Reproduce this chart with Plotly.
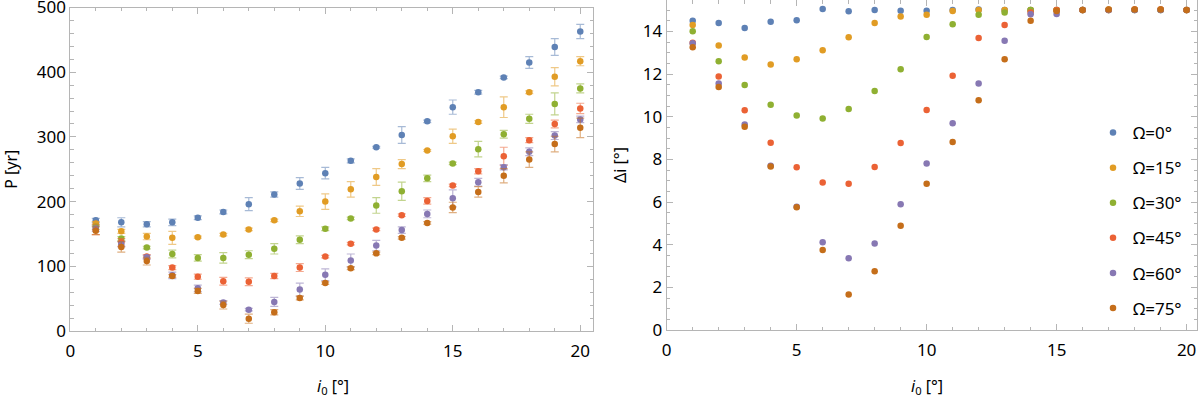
import plotly.graph_objects as go
from plotly.subplots import make_subplots

# ---------------- data ----------------
i0 = list(range(1, 21))
omega_labels = ["Ω=0°", "Ω=15°", "Ω=30°", "Ω=45°", "Ω=60°", "Ω=75°"]
x_title = "<i>i</i><sub>0</sub> [°]"
y_title_left = "P [yr]"
y_title_right = "Δi [°]"

P_0 = [171, 168, 165, 168, 175, 184, 196, 211, 228, 244, 263, 284, 303, 324, 346, 369, 392, 415, 439, 463]
P_15 = [166, 154, 146, 144, 145, 149, 157, 171, 185, 200, 219, 238, 258, 279, 301, 323, 346, 369, 393, 417]
P_30 = [161, 143, 129, 119, 113, 113, 118, 127, 141, 158, 174, 194, 216, 236, 259, 281, 304, 328, 351, 375]
P_45 = [157, 137, 115, 98, 84, 77, 76, 85, 98, 115, 135, 157, 179, 201, 225, 247, 270, 295, 320, 344]
P_60 = [158, 134, 114, 86, 66, 44, 33, 45, 64, 87, 109, 132, 156, 181, 205, 230, 253, 277, 302, 327]
P_75 = [155, 130, 108, 85, 62, 40, 19, 29, 51, 74, 97, 120, 144, 167, 191, 215, 240, 265, 289, 314]

E_0 = [3, 7, 4, 5, 3, 3, 10, 4, 9, 9, 3, 1.5, 13, 2, 11, 3, 2, 9, 13, 11]
E_15 = [3, 3, 5, 10, 1.5, 2, 2, 2, 8, 12, 12, 13, 7, 1.5, 11, 2, 16, 2, 14, 7]
E_30 = [4, 3, 2, 6, 5, 8, 6, 8, 6, 3, 2, 12, 14, 5, 2, 12, 6, 7, 17, 7]
E_45 = [8, 6, 3, 3, 4, 6, 6, 4, 6, 2, 2, 2, 2, 5, 2, 4, 14, 4, 6, 8]
E_60 = [4, 4, 3, 5, 5, 3, 2, 7, 10, 9, 10, 8, 5, 6, 13, 6, 4, 6, 6, 5]
E_75 = [6, 8, 6, 2, 4, 6, 7, 4, 3, 2, 2, 2, 2, 2, 8, 8, 11, 12, 12, 15]

D_0 = [14.5, 14.39, 14.16, 14.45, 14.52, 15.05, 14.94, 15.0, 14.97, 14.97, 15.0, 15.03, 15.0, 15.0, 15.0, 15.0, 15.0, 15.0, 15.0, 15.0]
D_15 = [14.3, 13.34, 12.77, 12.45, 12.69, 13.11, 13.72, 14.39, 14.7, 14.78, 14.95, 15.0, 15.0, 15.0, 15.0, 15.0, 15.02, 15.02, 15.02, 15.0]
D_30 = [14.0, 12.6, 11.48, 10.56, 10.06, 9.92, 10.36, 11.2, 12.22, 13.73, 14.33, 14.78, 14.88, 15.0, 15.0, 15.0, 15.0, 15.0, 15.0, 15.0]
D_45 = [13.47, 11.88, 10.3, 8.78, 7.63, 6.91, 6.86, 7.64, 8.77, 10.31, 11.92, 13.69, 14.3, 14.88, 15.0, 15.0, 15.0, 15.02, 15.02, 15.0]
D_60 = [13.44, 11.55, 9.63, 7.70, 5.78, 4.11, 3.36, 4.06, 5.89, 7.8, 9.69, 11.56, 13.56, 14.8, 14.81, 15.0, 15.0, 15.0, 15.0, 15.0]
D_75 = [13.25, 11.39, 9.53, 7.66, 5.75, 3.75, 1.67, 2.75, 4.89, 6.86, 8.81, 10.77, 12.69, 14.5, 14.95, 15.0, 15.02, 15.03, 15.03, 15.0]

P_series = [P_0, P_15, P_30, P_45, P_60, P_75]
E_series = [E_0, E_15, E_30, E_45, E_60, E_75]
D_series = [D_0, D_15, D_30, D_45, D_60, D_75]

colors = ["#5E81B5", "#E19C24", "#8FB032", "#EB6235", "#8778B3", "#C56E1A"]


def rgba(hexc, a):
    h = hexc.lstrip("#")
    r, g, b = int(h[0:2], 16), int(h[2:4], 16), int(h[4:6], 16)
    return f"rgba({r},{g},{b},{a})"


FONT = "Noto Sans"
fig = make_subplots(rows=1, cols=2)

for k in range(6):
    fig.add_trace(go.Scatter(
        x=i0, y=P_series[k], mode="markers",
        marker=dict(color=colors[k], size=6.5),
        error_y=dict(type="data", array=E_series[k], visible=True,
                     color=rgba(colors[k], 0.55), thickness=1.2, width=4),
        showlegend=False, hoverinfo="skip"), row=1, col=1)

for k in range(6):
    fig.add_trace(go.Scatter(
        x=i0, y=D_series[k], mode="markers", name=omega_labels[k],
        legendgroup=str(k),
        marker=dict(color=colors[k], size=6.5)), row=1, col=2)

axis_common = dict(
    showline=True, linecolor="#b5b5b5", linewidth=1, mirror="ticks",
    ticks="inside", tickcolor="#b5b5b5", ticklen=6, tickwidth=1,
    showgrid=False, zeroline=False, automargin=False,
    ticklabeloverflow="allow",
    tickfont=dict(family=FONT, size=17, color="#000000"),
)

fig.update_xaxes(**axis_common, ticklabelstandoff=5)
fig.update_yaxes(**axis_common)

W, H = 1200, 398
fig.update_layout(
    xaxis=dict(domain=[70.3 / W, 593 / W], range=[0, 20.5], dtick=5,
               minor=dict(dtick=1, ticklen=3.5, ticks="inside", tickcolor="#b5b5b5")),
    yaxis=dict(domain=[(H - 331) / H, (H - 7.5) / H], range=[0, 500], dtick=100,
               minor=dict(dtick=20, ticklen=3.5, ticks="inside", tickcolor="#b5b5b5"),
               title=dict(text=y_title_left, font=dict(family=FONT, size=16, color="#000"), standoff=16)),
    xaxis2=dict(domain=[666.7 / W, 1197 / W], range=[0, 20.4], dtick=5,
                minor=dict(dtick=1, ticklen=3.5, ticks="inside", tickcolor="#b5b5b5")),
    yaxis2=dict(domain=[(H - 330) / H, 1.0], range=[0, 15.47], dtick=2,
                minor=dict(dtick=0.5, ticklen=3.5, ticks="inside", tickcolor="#b5b5b5"),
                title=dict(text=y_title_right, font=dict(family=FONT, size=16, color="#000"), standoff=12)),
    width=W, height=H,
    margin=dict(l=0, r=0, t=0, b=0),
    paper_bgcolor="white", plot_bgcolor="white",
    legend=dict(x=1093 / W, xanchor="left", y=(H - 115) / H, yanchor="top",
                font=dict(family=FONT, size=17, color="#000"),
                tracegroupgap=10, bgcolor="rgba(0,0,0,0)", itemwidth=30),
    annotations=[
        dict(text=x_title, xref="paper", yref="paper", x=333 / W, y=(H - 386) / H,
             xanchor="center", yanchor="middle", showarrow=False,
             font=dict(family=FONT, size=16, color="#000")),
        dict(text=x_title, xref="paper", yref="paper", x=927 / W, y=(H - 386) / H,
             xanchor="center", yanchor="middle", showarrow=False,
             font=dict(family=FONT, size=16, color="#000")),
    ],
)

fig.write_html("out.html", config={"displayModeBar": False},
               post_script="document.body.style.margin='0px';document.body.style.overflow='hidden';")
